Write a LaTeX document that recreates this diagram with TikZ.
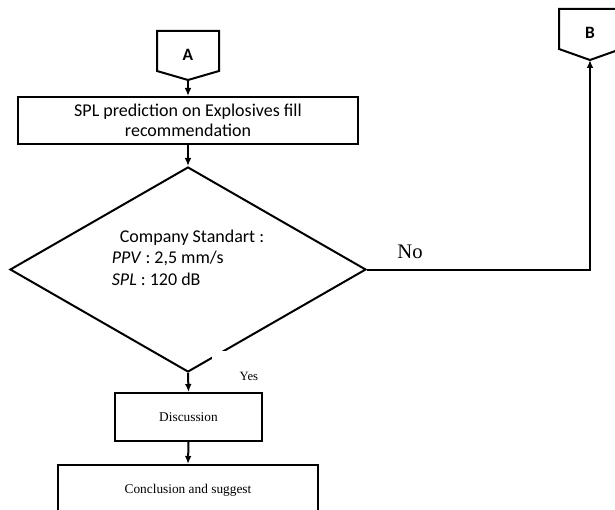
\documentclass[tikz,border=0pt]{standalone}
\usepackage{fontspec}
\setmainfont{Liberation Serif}
\newfontfamily\calibri{Carlito}
\usetikzlibrary{shapes.geometric,arrows.meta}
\tikzset{
  box/.style={draw, line width=1.5pt, rectangle, inner sep=0pt, align=center},
  flow/.style={line width=1.5pt, -{Latex[length=6pt,width=5pt]}},
  cal/.style={font=\calibri\fontsize{13.5}{16}\selectfont},
  tms/.style={font=\fontsize{10}{12}\selectfont}
}

\begin{document}
\begin{tikzpicture}[x=0.75pt,y=-0.75pt]
\useasboundingbox (0,0) rectangle (615,510);
\draw[line width=1.5pt] (157,31) -- (219,31) -- (219,71) -- (188,80) -- (157,71) -- cycle;
\node (A) at (188,55) {\calibri\fontsize{13}{15}\selectfont\bfseries A};
\coordinate (Atip) at (188,80);
\draw[line width=1.5pt] (559,9) -- (621,9) -- (621,49) -- (590,60) -- (559,49) -- cycle;
\node (B) at (590,33) {\calibri\fontsize{13}{15}\selectfont\bfseries B};
\coordinate (Btip) at (590,60);
\node[box, cal, minimum width=255pt, minimum height=35.25pt] (spl) at (188,120.5) {SPL prediction on Explosives fill\\[-1pt] recommendation};
\node[diamond, draw, line width=1.5pt, aspect=1.73, inner sep=0pt, minimum width=267pt, minimum height=153.75pt, cal, align=left, text depth=18pt] (std) at (188,269.5) {\hspace*{6pt}Company Standart :\\ \textit{PPV} : 2,5 mm/s\\ \textit{SPL} : 120 dB};
\node[box, tms, minimum width=110.25pt, minimum height=36pt] (disc) at (188.5,417) {Discussion};
\node[box, tms, minimum width=195pt, minimum height=37.5pt] (concl) at (188,490) {Conclusion and suggest};
\node[fill=white, inner sep=0pt, anchor=north west, text width=55pt, align=center, text height=22pt, text depth=3pt, font=\fontsize{9.5}{11}\selectfont] (yes) at (212,351) {Yes};
\node[font=\fontsize{15.5}{18}\selectfont] (no) at (410,252) {No};
\draw[flow] (Atip) -- (spl.north);
\draw[flow] (spl.south) -- (std.north);
\draw[flow] (std.south) -- (disc.north);
\draw[flow] (disc.south) -- (concl.north);
\draw[flow] (std.east) -| (Btip);
\end{tikzpicture}
\end{document}
